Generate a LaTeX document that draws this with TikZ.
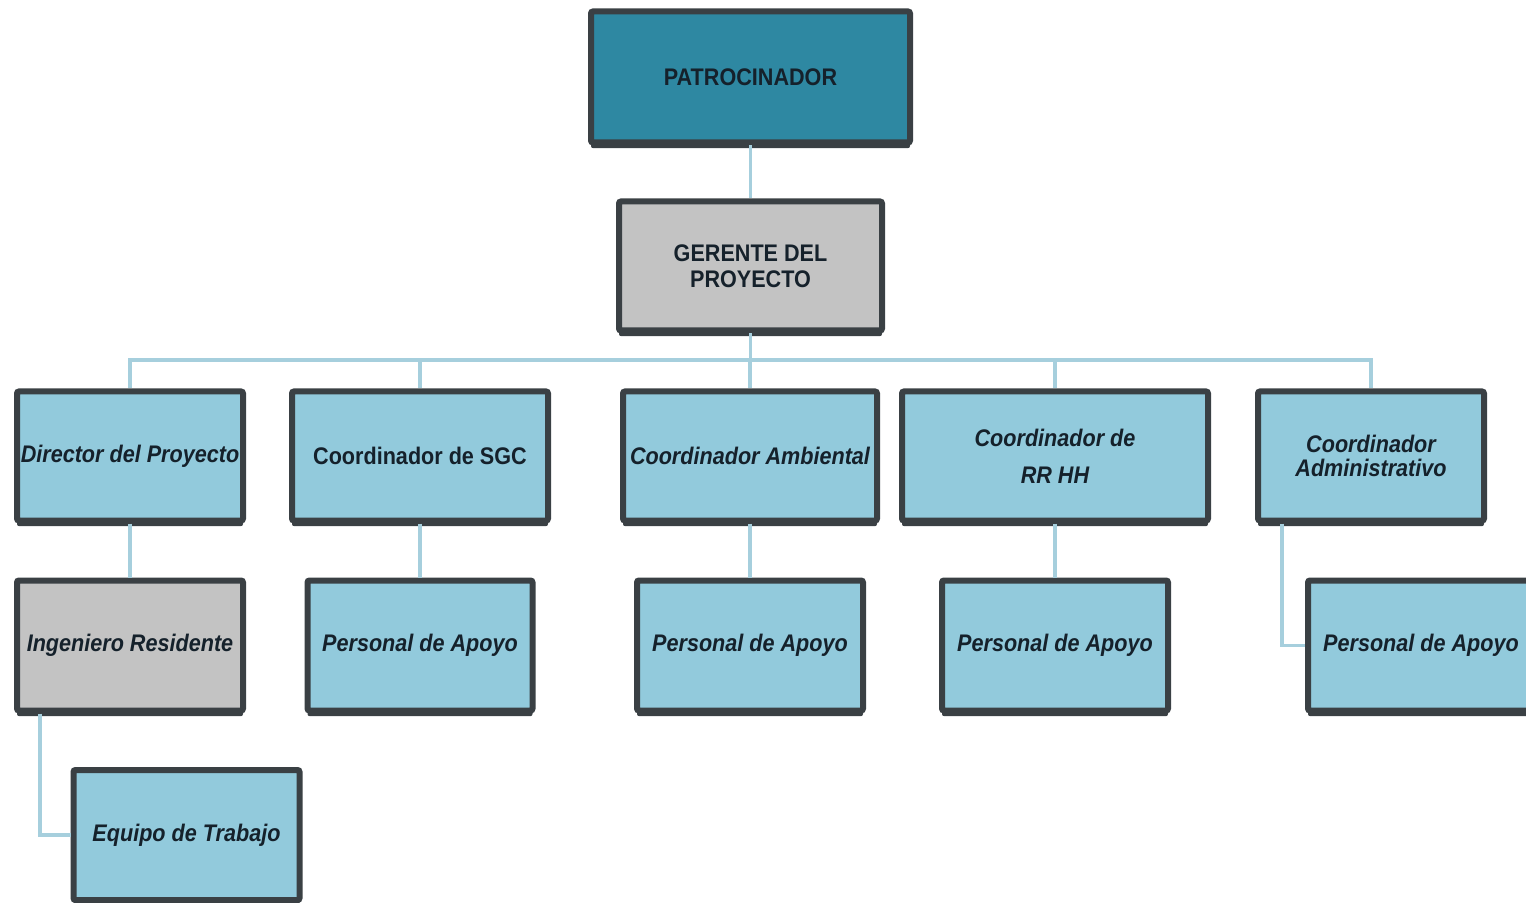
\documentclass[tikz,border=0pt]{standalone}
\usepackage{fontspec}
\newfontfamily\lab[FakeStretch=0.9]{Liberation Sans}
\usetikzlibrary{shadows,calc}
\definecolor{teal1}{HTML}{2E88A2}
\definecolor{lblue}{HTML}{92CADC}
\definecolor{lgrey}{HTML}{C3C3C3}
\definecolor{bcol}{HTML}{3A4044}
\definecolor{tcol}{HTML}{15212B}
\definecolor{ccol}{HTML}{A6CFDD}
\tikzset{
  box/.style={draw=bcol, line width=3pt, rounded corners=1pt, align=center,
    text=tcol, font=\lab\bfseries\fontsize{12}{14.4}\selectfont,
    general shadow={fill=bcol, shadow yshift=-2.8pt}, inner sep=1pt},
  bluebox/.style={box, fill=lblue},
  greybox/.style={box, fill=lgrey},
  tealbox/.style={box, fill=teal1},
  conn/.style={draw=ccol, line width=1.6pt},
}
\begin{document}
\begin{tikzpicture}[x=0.5pt,y=-0.5pt]
\useasboundingbox (0,0) rectangle (1526,903);
\clip (0,0) rectangle (1526,903);
% level 0 / 1
\node[tealbox, minimum width=159.5pt, minimum height=65.5pt] (pat) at (750.5,77) {PATROCINADOR};
\node[greybox, minimum width=131.5pt, minimum height=64.5pt] (ger) at (750.5,266) {GERENTE DEL\\[-1.4pt]PROYECTO};
% level 2
\node[bluebox, minimum width=113pt, minimum height=64.5pt] (c1) at (130,456) {\itshape Director del Proyecto};
\node[bluebox, minimum width=128pt, minimum height=64.5pt] (c2) at (420,456) {Coordinador de SGC};
\node[bluebox, minimum width=127pt, minimum height=64.5pt] (c3) at (750,456) {\itshape Coordinador Ambiental};
\node[bluebox, minimum width=153pt, minimum height=64.5pt] (c4) at (1055,456) {\itshape Coordinador de\\[4pt]\itshape RR HH};
\node[bluebox, minimum width=113pt, minimum height=64.5pt] (c5) at (1371,456) {\itshape Coordinador\\[-2pt]\itshape Administrativo};
% level 3
\node[greybox, minimum width=113pt, minimum height=65pt] (p1) at (130,645.5) {\itshape Ingeniero Residente};
\node[bluebox, minimum width=112.5pt, minimum height=65pt] (p2) at (420,645.5) {\itshape Personal de Apoyo};
\node[bluebox, minimum width=113pt, minimum height=65pt] (p3) at (750,645.5) {\itshape Personal de Apoyo};
\node[bluebox, minimum width=113pt, minimum height=65pt] (p4) at (1055,645.5) {\itshape Personal de Apoyo};
\node[bluebox, minimum width=113pt, minimum height=65pt] (p5) at (1421,645.5) {\itshape Personal de Apoyo};
% level 4
\node[bluebox, minimum width=113pt, minimum height=65pt] (eq) at (186.5,835) {\itshape Equipo de Trabajo};
% connectors
\coordinate (busy) at (0,360);
\draw[conn] (pat.south) -- (ger.north);
\foreach \c in {c1,c2,c3,c4,c5}
  \draw[conn] (ger.south) -- (ger.south |- busy) -| (\c.north);
\draw[conn] (c1.south) -- (p1.north);
\draw[conn] (c2.south) -- (p2.north);
\draw[conn] (c3.south) -- (p3.north);
\draw[conn] (c4.south) -- (p4.north);
\coordinate (a5) at ($(c5.south west)+(27,0)$);
\draw[conn] (a5) |- (p5.west);
\coordinate (a1) at ($(p1.south west)+(26,0)$);
\draw[conn] (a1) |- (eq.west);
\end{tikzpicture}
\end{document}
